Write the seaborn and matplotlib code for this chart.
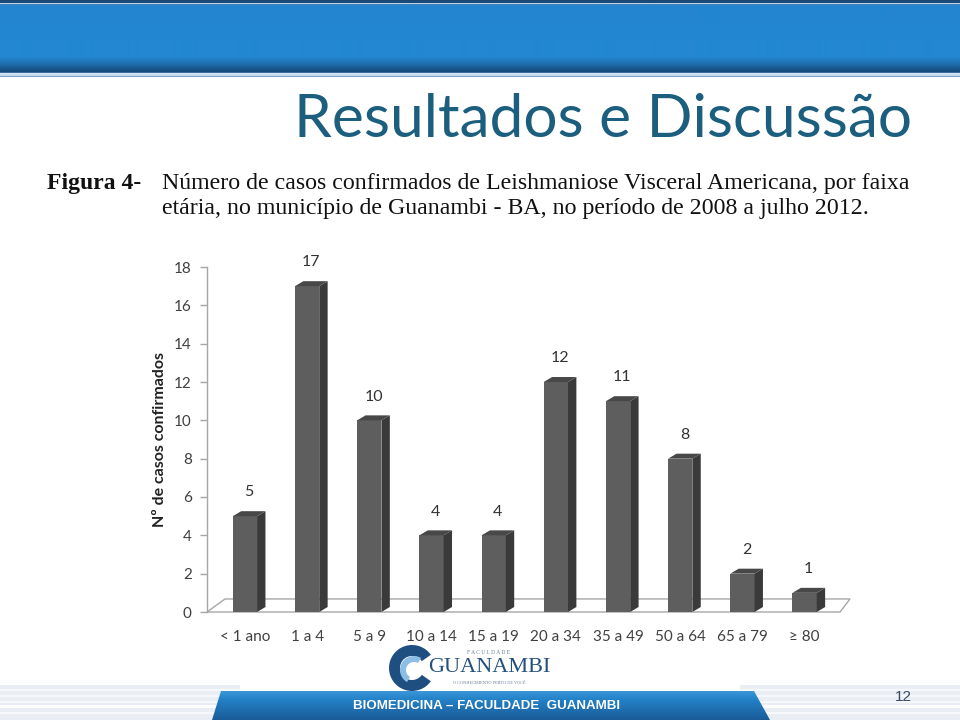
import numpy as np
import pandas as pd
import matplotlib
matplotlib.use("Agg")
import matplotlib.pyplot as plt
import seaborn as sns
from matplotlib.patches import Polygon, Rectangle, Wedge

# ---------------- data ----------------
categories = ["< 1 ano", "1 a 4", "5 a 9", "10 a 14", "15 a 19",
              "20 a 34", "35 a 49", "50 a 64", "65 a 79", "≥ 80"]
cases = [5, 17, 10, 4, 4, 12, 11, 8, 2, 1]
y_ticks = [0, 2, 4, 6, 8, 10, 12, 14, 16, 18]

slide_title = "Resultados e Discussão"
fig_label = "Figura 4-"
caption_lines = ["Número de casos confirmados de Leishmaniose Visceral Americana, por faixa",
                 "etária, no município de Guanambi - BA, no período de 2008 a julho 2012."]
y_label = "Nº de casos confirmados"
footer_text = "BIOMEDICINA – FACULDADE  GUANAMBI"
page_number = "12"
logo_top = "F A C U L D A D E"
logo_name = "GUANAMBI"
logo_slogan = "O CONHECIMENTO PERTO DE VOCÊ"

df = pd.DataFrame({"faixa": categories, "casos": cases})

sns.set_theme(style="white")
plt.rcParams['font.family'] = ['Lato', 'DejaVu Sans']

fig = plt.figure(figsize=(9.6, 7.2), dpi=100)
fig.patch.set_facecolor("white")

# ---------------- slide background (pixel coordinates) ----------------
bg = fig.add_axes([0, 0, 1, 1], zorder=0)
bg.set_xlim(0, 960)
bg.set_ylim(720, 0)
bg.axis("off")

def hex2rgb(h):
    h = h.lstrip('#')
    return [int(h[i:i + 2], 16) / 255 for i in (0, 2, 4)]

def vgrad(stops, n):
    ys = np.arange(n)
    pos = [s[0] for s in stops]
    cols = np.array([hex2rgb(s[1]) for s in stops])
    arr = np.stack([np.interp(ys, pos, cols[:, c]) for c in range(3)], axis=1)
    return arr[:, None, :]

header_stops = [(0, '#1c4a76'), (2, '#1c4a76'), (3, '#b8d2ea'), (4, '#3b84c4'),
                (6, '#2385cf'), (56, '#2388d2'), (63, '#1f70b0'), (71, '#154a7a'),
                (72, '#3f6f9e'), (73, '#d6e4f1'), (75, '#c4d8ea'), (76, '#7fa3c6'),
                (77, '#ffffff')]
bg.imshow(vgrad(header_stops, 78), extent=(0, 960, 78, 0), aspect='auto',
          interpolation='bilinear', zorder=1)

# footer stripes
for (x0, x1) in [(0, 240), (740, 960)]:
    bg.add_patch(Rectangle((x0, 685), x1 - x0, 35, facecolor='#e9edf4', edgecolor='none', zorder=1))
    for yy in (689, 695, 701, 712):
        bg.add_patch(Rectangle((x0, yy), x1 - x0, 1.5, facecolor='#f6f8fb', edgecolor='none', zorder=1))
    bg.add_patch(Rectangle((x0, 705), x1 - x0, 2.5, facecolor='#ffffff', edgecolor='none', zorder=1))

# blue footer band
band = Polygon([(221, 691), (754, 691), (770, 720), (212, 720)], closed=True,
               facecolor='none', edgecolor='none', zorder=2)
bg.add_patch(band)
band_stops = [(0, '#3a96d8'), (8, '#2482c8'), (29, '#1a5c98')]
im = bg.imshow(vgrad(band_stops, 30), extent=(200, 780, 720, 691), aspect='auto',
               interpolation='bilinear', zorder=2)
im.set_clip_path(band)
bg.text(487, 706, footer_text, color='white', fontsize=9.6, fontweight='bold',
        family=['Liberation Sans', 'DejaVu Sans'], ha='center', va='center', zorder=3)
bg.text(903, 697, page_number, color='#3b4a66', fontsize=11,
        family=['Liberation Sans', 'DejaVu Sans'], ha='center', va='center', zorder=3)

# logo
bg.add_patch(Wedge((412, 668), 23, 35, 325, width=11, facecolor='#1f4f80', edgecolor='none', zorder=3))
bg.add_patch(Wedge((414, 670), 14, 120, 300, width=6, facecolor='#8cbde4', edgecolor='none', zorder=4))
bg.text(489, 653, logo_top, color='#6a7f95', fontsize=4, ha='center', va='center',
        family=['Liberation Serif', 'DejaVu Serif'], zorder=3)
bg.text(489, 668, logo_name, color='#23507d', fontsize=16,
        family=['Liberation Serif', 'DejaVu Serif'], ha='center', va='center', zorder=3)
bg.text(489, 683, logo_slogan, color='#6a7f95', fontsize=3.2, ha='center', va='center',
        family=['Liberation Serif', 'DejaVu Serif'], zorder=3)

# title & caption
bg.text(912, 137, slide_title, ha='right', va='baseline', fontsize=43.5, color='#1b5e7e', zorder=3)
serif = ['Liberation Serif', 'DejaVu Serif']
bg.text(47, 189, fig_label, family=serif, fontsize=17, fontweight='bold', color='#111111',
        ha='left', va='baseline', zorder=3)
for i, line in enumerate(caption_lines):
    bg.text(162, 189 + 25 * i, line, family=serif, fontsize=17.2, color='#111111',
            ha='left', va='baseline', zorder=3)

# ---------------- chart ----------------
ax = fig.add_axes([207 / 960, 1 - 612 / 720, (850 - 207) / 960, (612 - 267) / 720], zorder=2)
ax.patch.set_alpha(0)

sns.barplot(data=df, x="faixa", y="casos", order=categories, ax=ax, color='#5e5e5e',
            saturation=1, width=0.39, edgecolor='none', zorder=3)

ax.set_ylim(0, 18)
ax.set_xlim(-0.61, 9.73)
ax.set_yticks(y_ticks)

dx, dy = 0.135, 0.26
# 3D floor
floor = Polygon([(-0.61, 0), (9.57, 0), (9.73, 0.68), (-0.32, 0.68)], closed=True,
                facecolor='white', edgecolor='#a6a6a6', lw=1, zorder=1, clip_on=False)
ax.add_patch(floor)

for p, v in zip(ax.patches[:len(cases)], cases):
    x0, w, h = p.get_x(), p.get_width(), p.get_height()
    side = Polygon([(x0 + w, 0), (x0 + w + dx, dy), (x0 + w + dx, h + dy), (x0 + w, h)],
                   closed=True, facecolor='#3a3a3a', edgecolor='none', zorder=3)
    top = Polygon([(x0, h), (x0 + dx, h + dy), (x0 + w + dx, h + dy), (x0 + w, h)],
                  closed=True, facecolor='#484848', edgecolor='none', zorder=3)
    ax.add_patch(side)
    ax.add_patch(top)
    ax.annotate(str(v), xy=(x0 + w / 2 + dx / 2, h + dy), xytext=(0, 13.5),
                textcoords='offset points', ha='center', va='center',
                fontsize=11.5, color='#333333', annotation_clip=False)

for s in ("top", "right", "bottom"):
    ax.spines[s].set_visible(False)
ax.spines["left"].set_color('#a6a6a6')
ax.spines["left"].set_linewidth(1)

ax.tick_params(axis='y', length=5, width=1, color='#a6a6a6', direction='out',
               labelsize=11, labelcolor='#404040', pad=6, left=True)
ax.tick_params(axis='x', length=0, labelsize=11, labelcolor='#404040', pad=13)
ax.set_xlabel("")
ax.set_ylabel(y_label, fontsize=11.5, fontweight='bold', color='#222222')
ax.yaxis.set_label_coords(-0.062, 0.5)

fig.savefig("out.png", dpi=100)
